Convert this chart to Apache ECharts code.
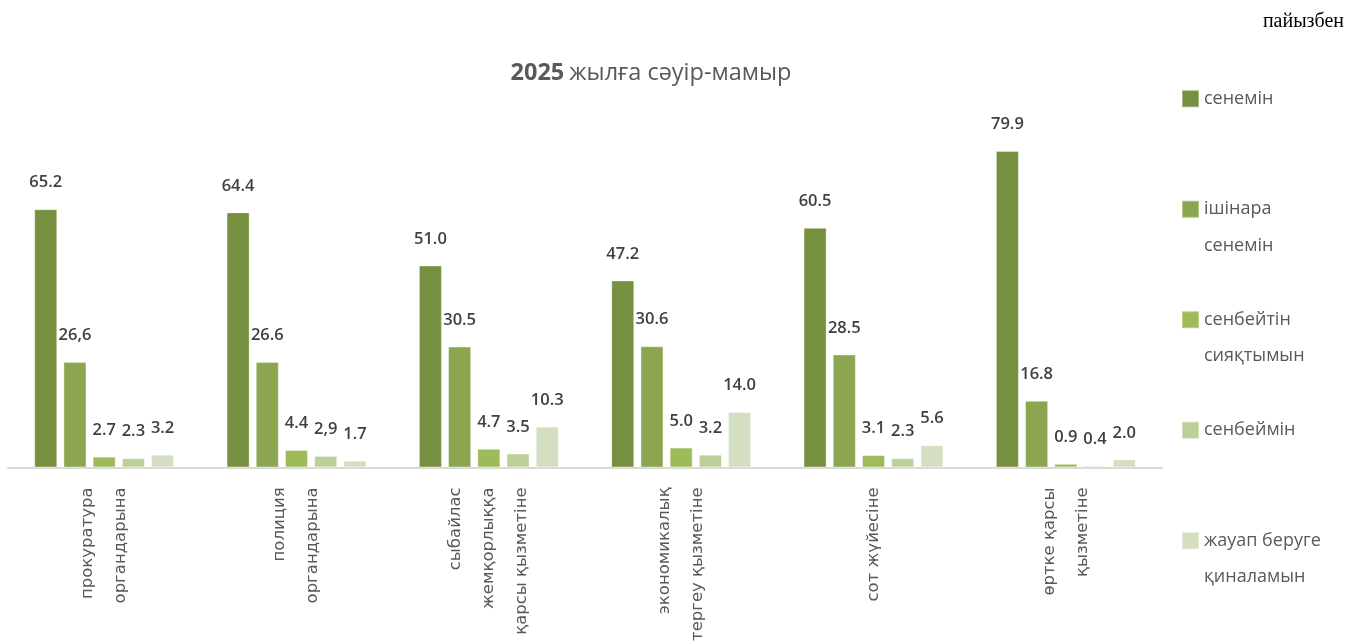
<!DOCTYPE html>
<html>
<head>
<meta charset="utf-8">
<script src="https://cdn.jsdelivr.net/npm/echarts@6/dist/echarts.min.js"></script>
<style>
html,body{margin:0;padding:0;background:#fff;}
#chart{width:1365px;height:641px;}
</style>
</head>
<body>
<div id="chart"></div>
<script>
const categories = [
  "прокуратура\nоргандарына",
  "полиция\nоргандарына",
  "сыбайлас\nжемқорлыққа\nқарсы қызметіне",
  "экономикалық\nтергеу қызметіне",
  "сот жүйесіне",
  "өртке қарсы\nқызметіне"
];
const seriesNames = [
  "сенемін",
  "ішінара\nсенемін",
  "сенбейтін\nсияқтымын",
  "сенбеймін",
  "жауап беруге\nқиналамын"
];
const trust      = [65.2, 64.4, 51.0, 47.2, 60.5, 79.9];
const partTrust  = [26.6, 26.6, 30.5, 30.6, 28.5, 16.8];
const seemDistrust = [2.7, 4.4, 4.7, 5.0, 3.1, 0.9];
const distrust   = [2.3, 2.9, 3.5, 3.2, 2.3, 0.4];
const hardToSay  = [3.2, 1.7, 10.3, 14.0, 5.6, 2.0];
// labels printed with a decimal comma in the original
const commaLabels = [[], [0], [], [1], []];
const colors = ["#77903F", "#8BA64F", "#9DBB59", "#BCCF98", "#D3DFC0"];

const allData = [trust, partTrust, seemDistrust, distrust, hardToSay];

const chart = echarts.init(document.getElementById('chart'));

const series = allData.map((d, si) => ({
  name: seriesNames[si],
  type: 'bar',
  data: d,
  barWidth: 23,
  barGap: '27%',
  itemStyle: { color: colors[si], borderColor: 'rgba(255,255,255,0.35)', borderWidth: 1 },
  label: {
    show: true,
    position: 'top',
    distance: 18,
    fontFamily: 'Open Sans',
    fontWeight: 600,
    fontSize: 16.5,
    color: '#404040',
    formatter: p => {
      let s = p.value.toFixed(1);
      if (commaLabels[si].includes(p.dataIndex)) s = s.replace('.', ',');
      return s;
    }
  }
}));

chart.setOption({
  animation: false,
  title: [{
    text: '{b|2025} {n|жылға сәуір-мамыр}',
    left: 646,
    top: 56,
    textAlign: 'center',
    textStyle: {
      fontWeight: 'normal',
      rich: {
        b: { fontFamily: 'Open Sans', fontWeight: 'bold', fontSize: 23.5, color: '#595959' },
        n: { fontFamily: 'Open Sans', fontWeight: 'normal', fontSize: 23.5, color: '#595959' }
      }
    }
  }, {
    text: 'пайызбен',
    right: 16,
    top: 7,
    textStyle: { fontFamily: 'Liberation Serif', fontWeight: 'normal', fontSize: 20, color: '#000' }
  }],
  legend: {
    orient: 'vertical',
    left: 1176,
    top: 39,
    itemWidth: 17,
    itemHeight: 17,
    itemGap: 1,
    icon: 'rect',
    data: seriesNames,
    formatter: n => n.indexOf('\n') >= 0 ? '\n' + n : '\n' + n + '\n',
    textStyle: { fontFamily: 'Open Sans', fontSize: 18, color: '#595959', lineHeight: 36.5 }
  },
  grid: { left: 8, right: 203, top: 71.4, bottom: 173.6, containLabel: false, outerBoundsMode: 'none' },
  xAxis: {
    type: 'category',
    data: categories,
    axisLine: { lineStyle: { color: '#D9D9D9', width: 2 } },
    axisTick: { show: false },
    axisLabel: {
      rotate: 90,
      interval: 0,
      margin: 20,
      fontFamily: 'DejaVu Sans',
      fontSize: 16.5,
      color: '#595959',
      lineHeight: 33
    }
  },
  yAxis: {
    type: 'value',
    min: 0,
    max: 100,
    show: false,
    splitLine: { show: false }
  },
  series: series
});
</script>
</body>
</html>
